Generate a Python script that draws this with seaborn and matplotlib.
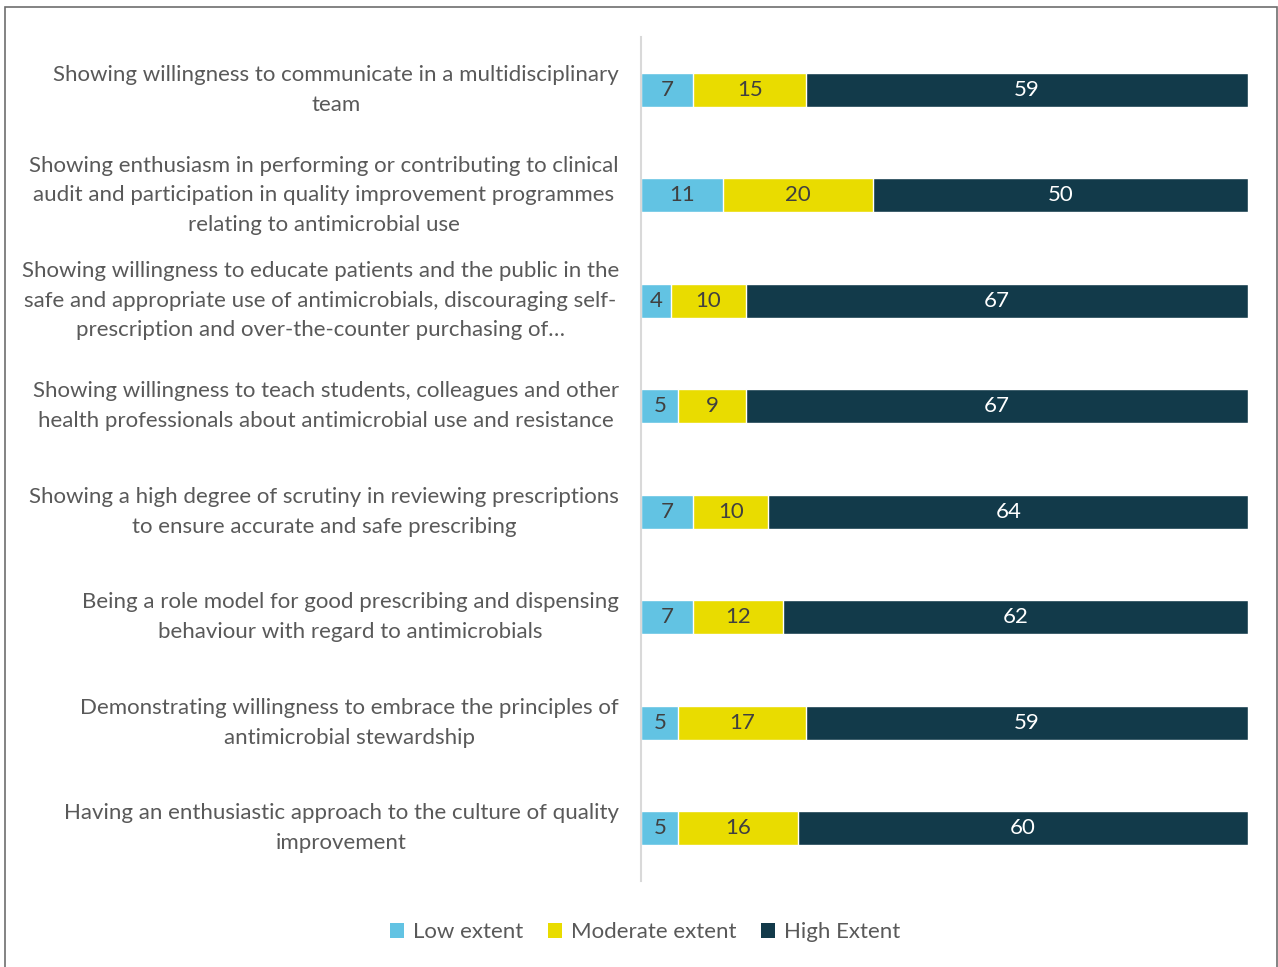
import matplotlib
matplotlib.use("Agg")
import matplotlib.pyplot as plt
import seaborn as sns
import pandas as pd
from matplotlib.patches import Patch, Rectangle

categories = [
    "Showing willingness to communicate in a multidisciplinary\nteam",
    "Showing enthusiasm in performing or contributing to clinical\naudit and participation in quality improvement programmes\nrelating to antimicrobial use",
    "Showing willingness to educate patients and the public in the\nsafe and appropriate use of antimicrobials, discouraging self-\nprescription and over-the-counter purchasing of…",
    "Showing willingness to teach students, colleagues and other\nhealth professionals about antimicrobial use and resistance",
    "Showing a high degree of scrutiny in reviewing prescriptions\nto ensure accurate and safe prescribing",
    "Being a role model for good prescribing and dispensing\nbehaviour with regard to antimicrobials",
    "Demonstrating willingness to embrace the principles of\nantimicrobial stewardship",
    "Having an enthusiastic approach to the culture of quality\nimprovement",
]
low = [7, 11, 4, 5, 7, 7, 5, 5]
moderate = [15, 20, 10, 9, 10, 12, 17, 16]
high = [59, 50, 67, 67, 64, 62, 59, 60]
series_names = ["Low extent", "Moderate extent", "High Extent"]
colors = ["#62C3E3", "#E9DC00", "#123A4A"]

sns.set_theme(style="white")
plt.rcParams["font.family"] = ["Lato", "DejaVu Sans"]

df = pd.DataFrame({"cat": categories, "low": low, "moderate": moderate, "high": high})
df["c1"] = df["low"]
df["c2"] = df["low"] + df["moderate"]
df["c3"] = df["c2"] + df["high"]

fig = plt.figure(figsize=(12.78, 9.67), dpi=100)
ax = fig.add_axes([641 / 1278, 1 - 881 / 967, (1248 - 641) / 1278, (881 - 37) / 967])

bw = 0.32
sns.barplot(data=df, x="c3", y="cat", color=colors[2], orient="h", width=bw, ax=ax, saturation=1)
sns.barplot(data=df, x="c2", y="cat", color=colors[1], orient="h", width=bw, ax=ax, saturation=1)
sns.barplot(data=df, x="c1", y="cat", color=colors[0], orient="h", width=bw, ax=ax, saturation=1)

ax.set_xlim(0, df["c3"].max())
ax.set_ylim(len(categories) - 0.5, -0.5)
ax.set_xlabel("")
ax.set_ylabel("")
ax.set_xticks([])
ax.set_yticks(range(len(categories)))
ax.set_yticklabels(categories, fontsize=16, color="#595959", multialignment="center", linespacing=1.6)
for t in ax.get_yticklabels():
    t.set_va("center")
ax.tick_params(axis="y", length=0, pad=16)
for s in ["top", "right", "bottom"]:
    ax.spines[s].set_visible(False)
ax.spines["left"].set_color("#D9D9D9")
ax.spines["left"].set_linewidth(1.5)

for i in range(len(categories)):
    starts = [0, df["c1"][i], df["c2"][i]]
    vals = [low[i], moderate[i], high[i]]
    for j, (s0, v) in enumerate(zip(starts, vals)):
        ax.text(s0 + v / 2, i, str(v), ha="center", va="center", fontsize=16,
                color="white" if j == 2 else "#404040")

handles = [Patch(facecolor=c, edgecolor="none", label=n) for c, n in zip(colors, series_names)]
fig.legend(handles=handles, loc="center", bbox_to_anchor=(645 / 1278, 1 - 932 / 967), ncol=3,
           frameon=False, fontsize=16, handlelength=0.65, handleheight=0.65, handletextpad=0.4,
           columnspacing=1.1, labelcolor="#595959")

fig.patches.append(Rectangle((5 / 1278, -0.01), 1272 / 1278, 1 - 7 / 967 + 0.01,
                             transform=fig.transFigure, fill=False, edgecolor="#6E6E6E", linewidth=1.2))

fig.savefig("out.png", dpi=100)
